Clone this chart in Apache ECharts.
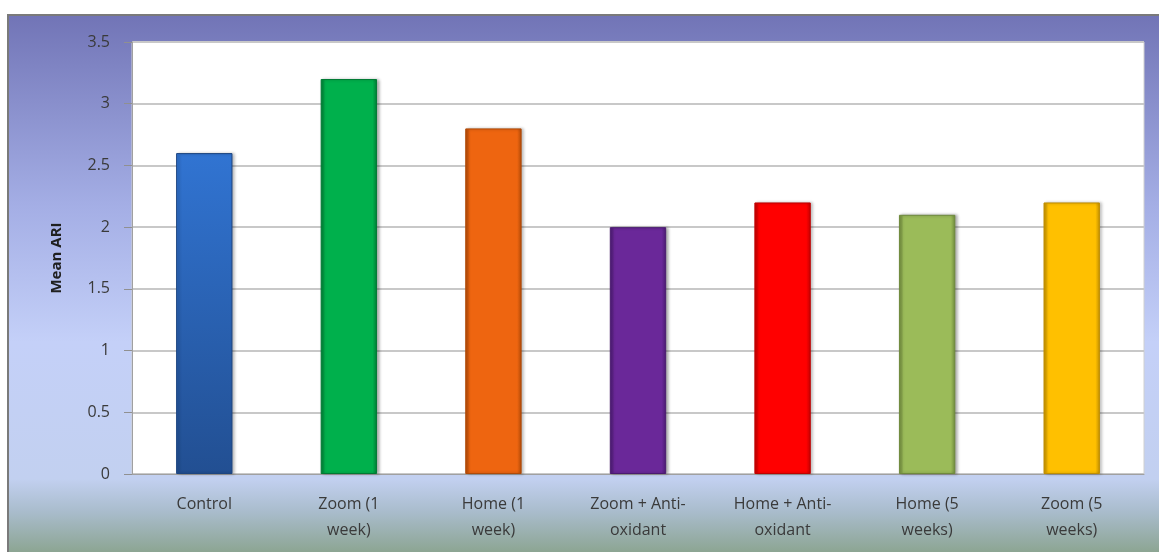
<!DOCTYPE html>
<html>
<head>
<meta charset="utf-8">
<script src="https://cdn.jsdelivr.net/npm/echarts@6/dist/echarts.min.js"></script>
<style>
html,body{margin:0;padding:0;background:#fff;}
#chart{width:1159px;height:552px;}
</style>
</head>
<body>
<div id="chart"></div>
<script>
const categories = ["Control", "Zoom (1\nweek)", "Home (1\nweek)", "Zoom + Anti-\noxidant", "Home + Anti-\noxidant", "Home (5\nweeks)", "Zoom (5\nweeks)"];
const meanARI = [2.6, 3.2, 2.8, 2.0, 2.2, 2.1, 2.2];
const barColors = ["#2d6bc6", "#00b04c", "#ee6510", "#6a2899", "#ff0000", "#9bbb59", "#ffc000"];
const barEdges = ["#1d4580", "#007a34", "#b04a08", "#4a1a70", "#c00000", "#6f8a3c", "#c08e00"];
const yTicks = [0, 0.5, 1, 1.5, 2, 2.5, 3, 3.5];

const chart = echarts.init(document.getElementById('chart'));
const data = meanARI.map((v, i) => ({
  value: v,
  itemStyle: {
    color: i === 0 ? {
      type: 'linear', x: 0, y: 0, x2: 0, y2: 1,
      colorStops: [{offset: 0, color: '#3174d2'}, {offset: 1, color: '#224f92'}]
    } : {
      type: 'linear', x: 0, y: 0, x2: 1, y2: 0,
      colorStops: [
        {offset: 0, color: barEdges[i]},
        {offset: 0.08, color: barColors[i]},
        {offset: 0.92, color: barColors[i]},
        {offset: 1, color: barEdges[i]}
      ]
    },
    borderColor: barEdges[i],
    borderWidth: 1,
    shadowColor: 'rgba(0,0,0,0.3)',
    shadowBlur: 3,
    shadowOffsetX: 2
  }
}));

chart.setOption({
  animation: false,
  backgroundColor: '#ffffff',
  graphic: [{
    type: 'rect',
    z: -10,
    shape: {x: 8, y: 15, width: 1170, height: 545},
    style: {
      fill: {
        type: 'linear', x: 0, y: 0, x2: 0, y2: 1,
        colorStops: [
          {offset: 0, color: '#7174b6'},
          {offset: 0.35, color: '#a4aee5'},
          {offset: 0.6, color: '#c4d0f8'},
          {offset: 0.85, color: '#c2d0f0'},
          {offset: 0.91, color: '#a9bccc'},
          {offset: 1, color: '#86a086'}
        ]
      },
      stroke: '#7a7a7a',
      lineWidth: 2
    }
  }],
  grid: {
    left: 132, right: 15, top: 42, bottom: 78,
    show: true, backgroundColor: '#ffffff', borderColor: '#d0d0d0', borderWidth: 1
  },
  xAxis: {
    type: 'category',
    data: categories,
    axisLine: {lineStyle: {color: '#a0a0a0', width: 1}},
    axisTick: {show: false},
    axisLabel: {
      color: '#3a3a3a', fontSize: 16, fontFamily: 'Open Sans, sans-serif',
      lineHeight: 26, margin: 17, interval: 0
    }
  },
  yAxis: {
    type: 'value',
    min: 0, max: 3.5, interval: 0.5,
    name: 'Mean ARI',
    nameLocation: 'middle',
    nameGap: 68,
    nameRotate: 90,
    nameTextStyle: {color: '#202020', fontSize: 15, fontWeight: 'bold', fontFamily: 'Open Sans, sans-serif'},
    axisLine: {show: true, lineStyle: {color: '#a0a0a0'}},
    axisTick: {show: true, length: 8, lineStyle: {color: '#909090'}},
    axisLabel: {
      color: '#3a3a3a', fontSize: 16, fontFamily: 'Open Sans, sans-serif', margin: 22,
      formatter: v => yTicks.includes(v) ? String(v) : ''
    },
    splitLine: {lineStyle: {color: '#c8c8c8', width: 2}}
  },
  series: [{
    type: 'bar',
    data: data,
    barWidth: '39%'
  }]
});
</script>
</body>
</html>
